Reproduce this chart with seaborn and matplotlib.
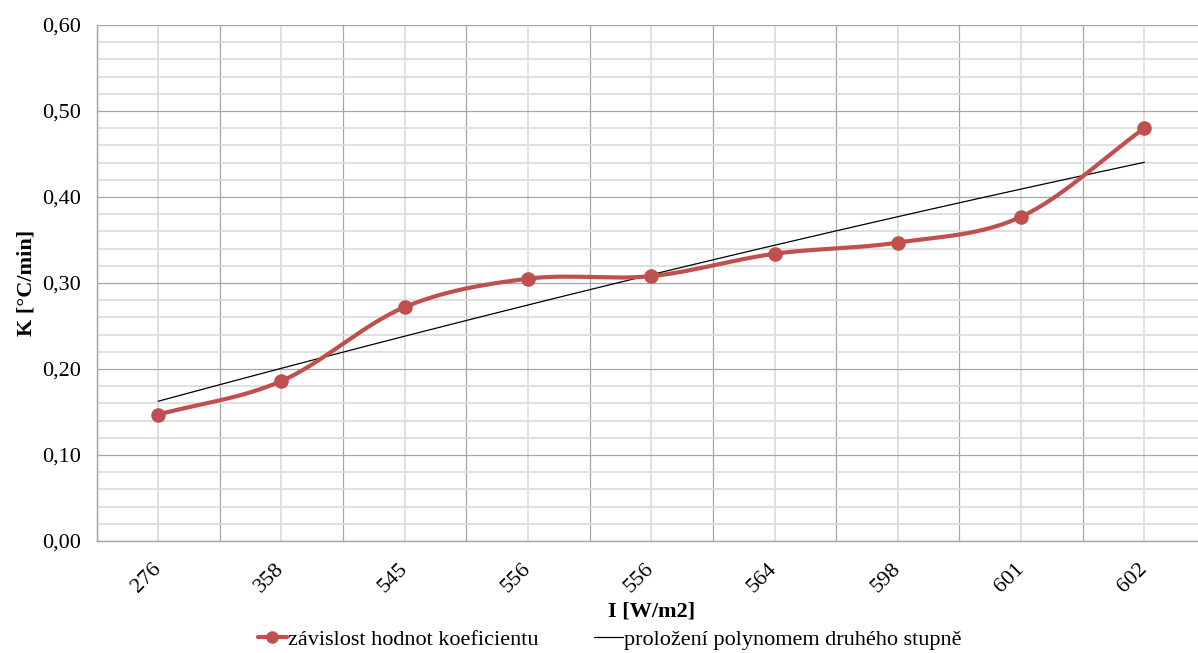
import numpy as np
import pandas as pd
import matplotlib
matplotlib.use("Agg")
import matplotlib.pyplot as plt
import seaborn as sns
from matplotlib.lines import Line2D
from matplotlib.ticker import MultipleLocator, FuncFormatter, FixedLocator

# Data
kategorie = ["276", "358", "545", "556", "556", "564", "598", "601", "602"]
hodnoty_k = [0.147, 0.186, 0.272, 0.305, 0.308, 0.334, 0.347, 0.377, 0.480]

CERVENA = "#C0504D"

sns.set_style("white")
plt.rcParams["font.family"] = ["Liberation Serif", "DejaVu Serif"]
plt.rcParams["text.color"] = "black"
plt.rcParams["axes.labelcolor"] = "black"
plt.rcParams["xtick.color"] = "black"
plt.rcParams["ytick.color"] = "black"


def catmull_rom(x, y, n=30):
    # smoothed line similar to the spreadsheet "smooth line" option
    px = np.concatenate([[2 * x[0] - x[1]], x, [2 * x[-1] - x[-2]]])
    py = np.concatenate([[2 * y[0] - y[1]], y, [2 * y[-1] - y[-2]]])
    xs, ys = [], []
    for i in range(1, len(px) - 2):
        t = np.linspace(0, 1, n, endpoint=False)
        for p, out in ((px, xs), (py, ys)):
            p0, p1, p2, p3 = p[i - 1], p[i], p[i + 1], p[i + 2]
            out.extend(0.5 * ((2 * p1) + (-p0 + p2) * t
                              + (2 * p0 - 5 * p1 + 4 * p2 - p3) * t ** 2
                              + (-p0 + 3 * p1 - 3 * p2 + p3) * t ** 3))
    xs.append(x[-1])
    ys.append(y[-1])
    return np.array(xs), np.array(ys)


x = np.arange(len(kategorie), dtype=float)
y = np.array(hodnoty_k)
xs, ys = catmull_rom(x, y)

# polynomial trendline of second degree
koef = np.polyfit(x, y, 2)

df_smooth = pd.DataFrame({"x": xs, "y": ys})
df_body = pd.DataFrame({"x": x, "y": y})
df_trend = pd.DataFrame({"x": np.linspace(0, len(x) - 1, 100)})
df_trend["y"] = np.polyval(koef, df_trend["x"])

fig = plt.figure(figsize=(11.98, 6.53), dpi=100)
ax = fig.add_axes([96.5 / 1198, 1 - 541 / 653, (1206 - 96.5) / 1198, (541 - 25) / 653])

# 1. Grid
ax.set_xlim(-0.5, len(kategorie) - 0.5)
ax.set_ylim(0, 0.6)
ax.yaxis.set_major_locator(MultipleLocator(0.1))
ax.yaxis.set_minor_locator(MultipleLocator(0.02))
ax.xaxis.set_major_locator(FixedLocator(np.arange(-0.5, len(kategorie), 1.0)))
ax.xaxis.set_minor_locator(FixedLocator(x))
ax.grid(which="major", color="#A6A6A6", linewidth=0.9)
ax.grid(which="minor", color="#DDDDDD", linewidth=1.3)
ax.set_axisbelow(True)

# 2. Data
sns.lineplot(data=df_trend, x="x", y="y", ax=ax, color="black", linewidth=0.9,
             sort=False, zorder=3)
sns.lineplot(data=df_smooth, x="x", y="y", ax=ax, color=CERVENA, linewidth=3,
             sort=False, zorder=4)
sns.scatterplot(data=df_body, x="x", y="y", ax=ax, color=CERVENA, s=110,
                edgecolor=CERVENA, linewidth=0, zorder=5)

# 3. Axes and labels
ax.yaxis.set_major_formatter(FuncFormatter(lambda v, p: f"{v:.2f}".replace(".", ",")))
ax.xaxis.set_major_formatter(FuncFormatter(lambda v, p: ""))
ax.set_xticks(x, minor=True)
ax.set_xticklabels(kategorie, minor=True, rotation=45, fontsize=16,
                   ha="right", va="center", rotation_mode="anchor")
ax.tick_params(axis="x", which="minor", length=0, pad=18)
ax.tick_params(axis="x", which="major", length=7, color="#A6A6A6", direction="out")
ax.tick_params(axis="y", which="major", length=7, color="#A6A6A6", labelsize=16,
               direction="out", pad=4)
ax.tick_params(axis="y", which="minor", length=0)

for side in ["top", "right"]:
    ax.spines[side].set_visible(False)
for side in ["left", "bottom"]:
    ax.spines[side].set_color("#A6A6A6")
    ax.spines[side].set_linewidth(1.0)

ax.set_xlabel("I [W/m2]", fontsize=16, fontweight="bold", labelpad=4)
ax.set_ylabel("K [°C/min]", fontsize=16, fontweight="bold", labelpad=4)

# 4. Legend
handles = [
    Line2D([], [], color=CERVENA, linewidth=3, marker="o", markersize=8),
    Line2D([], [], color="black", linewidth=0.9),
]
labels = ["závislost hodnot koeficientu", "proložení polynomem druhého stupně"]
fig.legend(handles, labels, loc="lower center", bbox_to_anchor=(0.509, -0.026),
           ncol=2, frameon=False, fontsize=16, handlelength=1.3,
           handletextpad=0.05, columnspacing=2.5)

plt.savefig("out.png", dpi=100)
